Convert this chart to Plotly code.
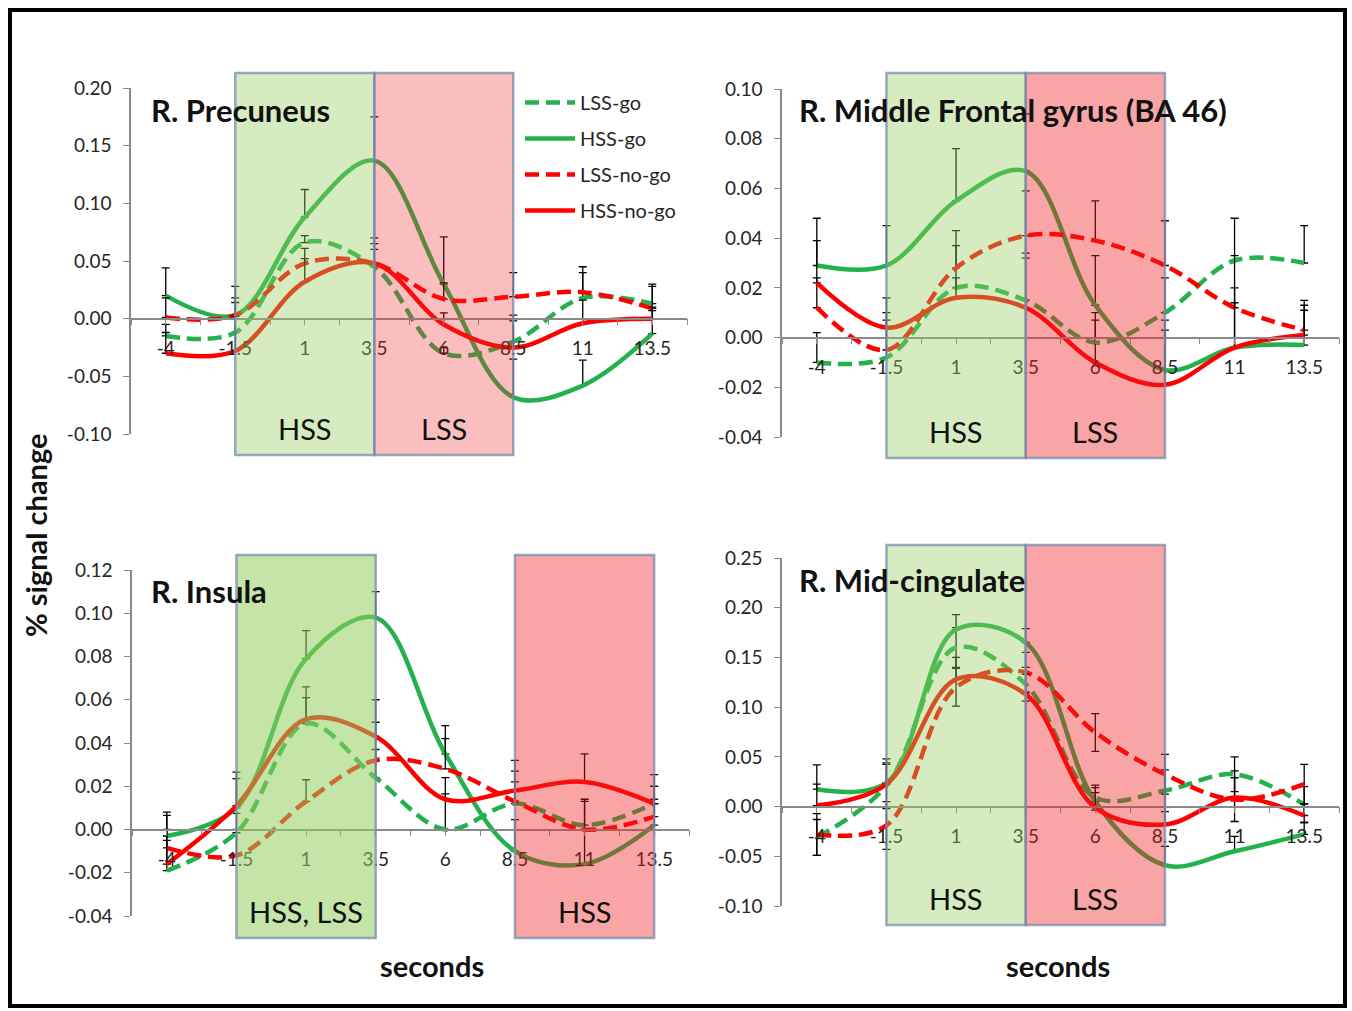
import plotly.graph_objects as go

# ---------------- data ----------------
seconds = [-4, -1.5, 1, 3.5, 6, 8.5, 11, 13.5]
series_names = ["LSS-go", "HSS-go", "LSS-no-go", "HSS-no-go"]

# R. Precuneus
prec_lss_go = [-0.015, -0.012, 0.066, 0.045, -0.030, -0.020, 0.018, 0.013]
prec_hss_go = [0.020, 0.003, 0.088, 0.137, 0.030, -0.068, -0.058, -0.013]
prec_lss_nogo = [0.001, 0.003, 0.048, 0.048, 0.017, 0.019, 0.023, 0.009]
prec_hss_nogo = [-0.030, -0.028, 0.032, 0.048, -0.005, -0.025, -0.004, 0.000]
prec_err_lss_go = [0.010, 0.026, 0.006, 0.025, 0.005, 0.023, 0.022, 0.017]
prec_err_hss_go = [0.024, 0.025, 0.024, 0.038, 0.041, 0.033, 0.022, 0.020]
prec_err_lss_nogo = [0.017, 0.015, 0.013, 0.017, 0.014, 0.021, 0.022, 0.019]
prec_err_hss_nogo = [0.018, 0.030, 0.020, 0.012, 0.010, 0.023, 0.020, 0.010]

# R. Middle Frontal gyrus (BA 46)
mfg_lss_go = [-0.010, -0.008, 0.020, 0.015, -0.002, 0.010, 0.031, 0.030]
mfg_hss_go = [0.029, 0.029, 0.055, 0.067, 0.013, -0.013, -0.004, -0.003]
mfg_lss_nogo = [0.012, -0.005, 0.028, 0.041, 0.039, 0.029, 0.012, 0.003]
mfg_hss_nogo = [0.022, 0.004, 0.016, 0.012, -0.010, -0.019, -0.004, 0.001]
mfg_err_lss_go = [0.012, 0.018, 0.017, 0.019, 0.012, 0.014, 0.017, 0.015]
mfg_err_hss_go = [0.019, 0.016, 0.021, 0.023, 0.020, 0.020, 0.024, 0.014]
mfg_err_lss_nogo = [0.012, 0.012, 0.015, 0.018, 0.016, 0.018, 0.021, 0.012]
mfg_err_hss_nogo = [0.017, 0.012, 0.008, 0.020, 0.017, 0.022, 0.018, 0.012]

# R. Insula
ins_lss_go = [-0.019, -0.0015, 0.049, 0.024, 0.000, 0.012, 0.002, 0.012]
ins_hss_go = [-0.003, 0.010, 0.079, 0.098, 0.035, -0.010, -0.016, 0.002]
ins_lss_nogo = [-0.0085, -0.012, 0.013, 0.032, 0.028, 0.013, 0.000, 0.006]
ins_hss_nogo = [-0.016, 0.011, 0.051, 0.043, 0.014, 0.018, 0.022, 0.012]
ins_err_lss_go = [0.014, 0.009, 0.012, 0.013, 0.0165, 0.010, 0.012, 0.008]
ins_err_hss_go = [0.011, 0.0165, 0.013, 0.012, 0.013, 0.0146, 0.016, 0.010]
ins_err_lss_nogo = [0.015, 0.012, 0.010, 0.0176, 0.014, 0.014, 0.013, 0.008]
ins_err_hss_nogo = [0.016, 0.0125, 0.015, 0.017, 0.010, 0.014, 0.013, 0.0134]

# R. Mid-cingulate
mcc_lss_go = [-0.031, 0.021, 0.160, 0.123, 0.009, 0.016, 0.0325, 0.002]
mcc_hss_go = [0.0175, 0.024, 0.178, 0.165, 0.005, -0.059, -0.045, -0.028]
mcc_lss_nogo = [-0.028, -0.019, 0.120, 0.135, 0.0745, 0.0325, 0.007, 0.0225]
mcc_hss_nogo = [0.001, 0.0225, 0.128, 0.113, -0.001, -0.018, 0.009, -0.009]
mcc_err_lss_go = [0.018, 0.023, 0.020, 0.017, 0.0125, 0.021, 0.0175, 0.018]
mcc_err_hss_go = [0.0245, 0.024, 0.015, 0.014, 0.014, 0.019, 0.015, 0.012]
mcc_err_lss_nogo = [0.021, 0.024, 0.019, 0.020, 0.019, 0.020, 0.022, 0.020]
mcc_err_hss_nogo = [0.0215, 0.020, 0.022, 0.020, 0.015, 0.018, 0.027, 0.012]

x_tick_vals = [-4, -1.5, 1, 3.5, 6, 8.5, 11, 13.5]
x_tick_text = ["-4", "-1.5", "1", "3.5", "6", "8.5", "11", "13.5"]
prec_y_ticks = [-0.10, -0.05, 0.00, 0.05, 0.10, 0.15, 0.20]
prec_y_text = ["-0.10", "-0.05", "0.00", "0.05", "0.10", "0.15", "0.20"]
mfg_y_ticks = [-0.04, -0.02, 0.00, 0.02, 0.04, 0.06, 0.08, 0.10]
mfg_y_text = ["-0.04", "-0.02", "0.00", "0.02", "0.04", "0.06", "0.08", "0.10"]
ins_y_ticks = [-0.04, -0.02, 0.00, 0.02, 0.04, 0.06, 0.08, 0.10, 0.12]
ins_y_text = ["-0.04", "-0.02", "0.00", "0.02", "0.04", "0.06", "0.08", "0.10", "0.12"]
mcc_y_ticks = [-0.10, -0.05, 0.00, 0.05, 0.10, 0.15, 0.20, 0.25]
mcc_y_text = ["-0.10", "-0.05", "0.00", "0.05", "0.10", "0.15", "0.20", "0.25"]

# ---------------- layout helpers ----------------
W, H = 1352, 1011


def px(X):
    return X / W


def py(Y):
    return 1 - Y / H


GREEN = "#22b14c"
RED = "#ff0000"
FONT = "Lato"
TXT = "#262626"
AXC = "#8a8a8a"

styles = {
    "LSS-go": dict(color=GREEN, dash="14px,7px"),
    "HSS-go": dict(color=GREEN, dash="solid"),
    "LSS-no-go": dict(color=RED, dash="14px,7px"),
    "HSS-no-go": dict(color=RED, dash="solid"),
}

panels = [
    dict(title="R. Precuneus", xpix=(131, 687), ypix=(434, 88),
         yrange=(-0.10, 0.20), yt=prec_y_ticks, ytt=prec_y_text,
         series=[prec_lss_go, prec_hss_go, prec_lss_nogo, prec_hss_nogo],
         errs=[prec_err_lss_go, prec_err_hss_go, prec_err_lss_nogo, prec_err_hss_nogo],
         sym=[False, False, False, False], title_xy=(149, 110)),
    dict(title="R. Middle Frontal gyrus (BA 46)", xpix=(782, 1339), ypix=(437, 89),
         yrange=(-0.04, 0.10), yt=mfg_y_ticks, ytt=mfg_y_text,
         series=[mfg_lss_go, mfg_hss_go, mfg_lss_nogo, mfg_hss_nogo],
         errs=[mfg_err_lss_go, mfg_err_hss_go, mfg_err_lss_nogo, mfg_err_hss_nogo],
         sym=[False, False, False, False], title_xy=(797, 110)),
    dict(title="R. Insula", xpix=(132, 689), ypix=(916, 570),
         yrange=(-0.04, 0.12), yt=ins_y_ticks, ytt=ins_y_text,
         series=[ins_lss_go, ins_hss_go, ins_lss_nogo, ins_hss_nogo],
         errs=[ins_err_lss_go, ins_err_hss_go, ins_err_lss_nogo, ins_err_hss_nogo],
         sym=[False, False, False, False], title_xy=(149, 591)),
    dict(title="R. Mid-cingulate", xpix=(782, 1339), ypix=(906, 558),
         yrange=(-0.10, 0.25), yt=mcc_y_ticks, ytt=mcc_y_text,
         series=[mcc_lss_go, mcc_hss_go, mcc_lss_nogo, mcc_hss_nogo],
         errs=[mcc_err_lss_go, mcc_err_hss_go, mcc_err_lss_nogo, mcc_err_hss_nogo],
         sym=[True, False, True, False], title_xy=(797, 580)),
]

fig = go.Figure()
layout = dict(
    width=W, height=H, margin=dict(l=0, r=0, t=0, b=0, pad=0, autoexpand=False),
    paper_bgcolor="white", plot_bgcolor="rgba(0,0,0,0)",
    font=dict(family=FONT, size=19, color=TXT),
    showlegend=True,
    legend=dict(x=px(520), y=py(83), xanchor="left", yanchor="top",
                bgcolor="rgba(0,0,0,0)", font=dict(family=FONT, size=20, color=TXT),
                itemwidth=50, tracegroupgap=7, traceorder="grouped"),
)
annotations = []
shapes = []

for i, p in enumerate(panels):
    n = "" if i == 0 else str(i + 1)
    xa, ya = "x" + n, "y" + n
    xd = [px(p["xpix"][0]), px(p["xpix"][1])]
    yd = [py(p["ypix"][0]), py(p["ypix"][1])]
    y0, y1 = p["yrange"]
    zero_pos = yd[0] + (0 - y0) / (y1 - y0) * (yd[1] - yd[0])
    layout["xaxis" + n] = dict(
        domain=xd, range=[-5.25, 14.75], anchor="free", position=zero_pos,
        automargin=False, showgrid=False, zeroline=False, showline=True,
        linecolor=AXC, linewidth=1.5, ticks="outside", ticklen=6, tickcolor=AXC,
        tickvals=x_tick_vals, ticktext=x_tick_text, ticklabelstandoff=7,
        tickfont=dict(family=FONT, size=19, color=TXT),
        minor=dict(ticks="outside", ticklen=6, tickcolor=AXC, tick0=-4, dtick=1.25),
    )
    layout["yaxis" + n] = dict(
        domain=yd, range=[y0, y1], anchor=xa, automargin=False, showgrid=False,
        zeroline=False, showline=True, linecolor=AXC, linewidth=1.5, ticks="outside",
        ticklen=6, tickcolor=AXC, tickvals=p["yt"], ticktext=p["ytt"],
        ticklabelstandoff=8, tickfont=dict(family=FONT, size=19, color=TXT),
    )
    for k, name in enumerate(series_names):
        st = styles[name]
        e = p["errs"][k]
        fig.add_trace(go.Scatter(
            x=seconds, y=p["series"][k], xaxis=xa, yaxis=ya, mode="lines",
            name=name, legendgroup=name, showlegend=(i == 0),
            line=dict(color=st["color"], dash=st["dash"], width=4.5,
                      shape="spline", smoothing=1.0),
            error_y=dict(type="data", array=e,
                         arrayminus=(e if p["sym"][k] else [0] * len(e)),
                         symmetric=False, color="black", thickness=1.3, width=4),
            hoverinfo="skip",
        ))
    annotations.append(dict(
        x=px(p["title_xy"][0]), y=py(p["title_xy"][1]), xref="paper", yref="paper",
        xanchor="left", yanchor="middle", showarrow=False, text="<b>%s</b>" % p["title"],
        font=dict(family=FONT, size=31, color="#111111")))

# shaded windows (x in data, y in paper)
GREEN_FILL = "rgba(150,205,94,0.39)"
GREEN_FILL_STRONG = "rgba(150,205,94,0.55)"
RED_FILL_LIGHT = "rgba(240,40,40,0.30)"
RED_FILL = "rgba(240,30,30,0.40)"
EDGE = dict(color="rgba(120,140,175,0.75)", width=2.5)
windows = [
    ("x", -1.5, 3.5, 455, 73, GREEN_FILL, "HSS"),
    ("x", 3.5, 8.5, 455, 73, RED_FILL_LIGHT, "LSS"),
    ("x2", -1.5, 3.5, 458, 73, GREEN_FILL, "HSS"),
    ("x2", 3.5, 8.5, 458, 73, RED_FILL, "LSS"),
    ("x3", -1.5, 3.5, 938, 555, GREEN_FILL_STRONG, "HSS, LSS"),
    ("x3", 8.5, 13.5, 938, 555, RED_FILL, "HSS"),
    ("x4", -1.5, 3.5, 925, 545, GREEN_FILL, "HSS"),
    ("x4", 3.5, 8.5, 925, 545, RED_FILL, "LSS"),
]
for xr, a, b, ybot, ytop, fill, lab in windows:
    shapes.append(dict(type="rect", xref=xr, yref="paper", x0=a, x1=b,
                       y0=py(ybot), y1=py(ytop), fillcolor=fill, line=EDGE,
                       layer="above"))
    annotations.append(dict(x=(a + b) / 2, y=py(ybot - 27), xref=xr, yref="paper",
                            xanchor="center", yanchor="middle", showarrow=False,
                            text=lab, font=dict(family=FONT, size=29, color="#111111")))

# axis titles
for sx in (432, 1058):
    annotations.append(dict(x=px(sx), y=py(965), xref="paper", yref="paper", showarrow=False,
                            xanchor="center", yanchor="middle",
                            text="<b>seconds</b>", font=dict(family=FONT, size=29, color="#111111")))
annotations.append(dict(x=px(35), y=py(535), xref="paper", yref="paper", showarrow=False,
                        xanchor="center", yanchor="middle",
                        textangle=-90, text="<b>% signal change</b>",
                        font=dict(family=FONT, size=29, color="#111111")))

# outer frame
shapes.append(dict(type="rect", xref="paper", yref="paper", x0=px(10), x1=px(1345),
                   y0=py(1006), y1=py(10), line=dict(color="black", width=4),
                   fillcolor="rgba(0,0,0,0)", layer="above"))

layout["annotations"] = annotations
layout["shapes"] = shapes
fig.update_layout(**layout)
fig.write_html(
    "out.html",
    config={"displayModeBar": False},
    post_script="document.body.style.margin='0';document.body.style.overflow='hidden';",
)
